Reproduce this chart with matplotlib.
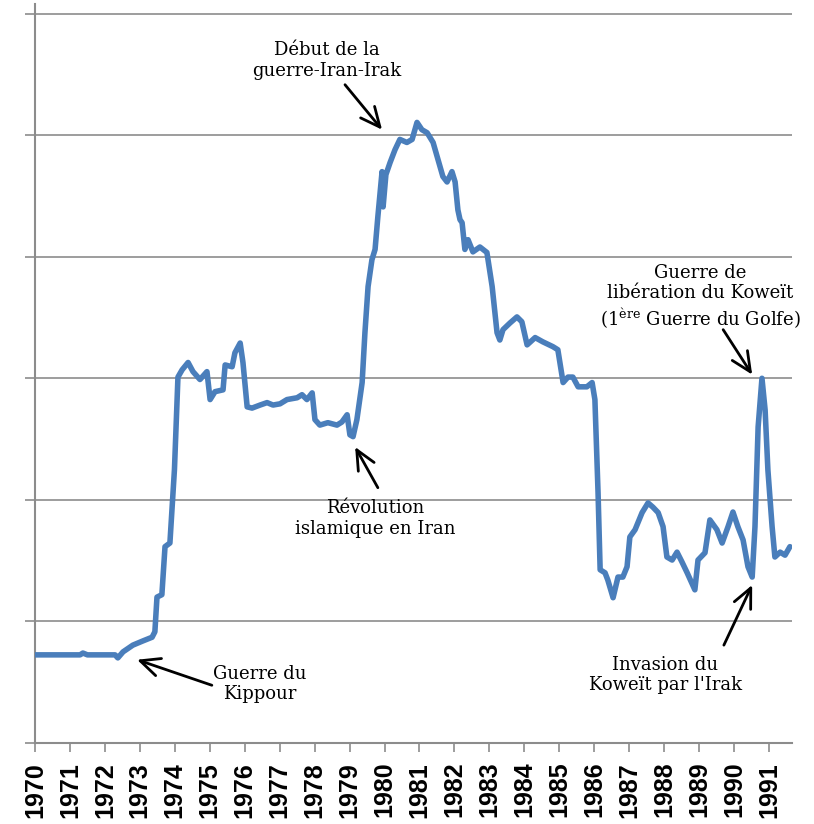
import matplotlib.pyplot as plt

# Oil price curve (decimal year, value; gridlines every 20)
years = [
    1970.00, 1971.29, 1971.37, 1971.50, 1972.29, 1972.37, 1972.52, 1972.80,
    1973.09, 1973.35, 1973.43, 1973.49, 1973.63, 1973.72, 1973.86, 1973.99,
    1974.09, 1974.21, 1974.38, 1974.52, 1974.72, 1974.92, 1975.01, 1975.15,
    1975.38, 1975.44, 1975.64, 1975.72, 1975.87, 1975.95, 1976.07, 1976.21,
    1976.44, 1976.64, 1976.81, 1977.01, 1977.21, 1977.50, 1977.64, 1977.78,
    1977.93, 1978.01, 1978.15, 1978.38, 1978.64, 1978.78, 1978.93, 1979.01,
    1979.10, 1979.21, 1979.36, 1979.44, 1979.53, 1979.64, 1979.73, 1979.81,
    1979.93, 1979.96, 1980.04, 1980.16, 1980.30, 1980.44, 1980.64, 1980.79,
    1980.93, 1981.07, 1981.22, 1981.39, 1981.53, 1981.67, 1981.79, 1981.93,
    1982.02, 1982.10, 1982.16, 1982.22, 1982.30, 1982.39, 1982.53, 1982.73,
    1982.93, 1983.08, 1983.22, 1983.30, 1983.39, 1983.59, 1983.79, 1983.93,
    1984.08, 1984.31, 1984.53, 1984.82, 1984.96, 1985.11, 1985.25, 1985.39,
    1985.54, 1985.79, 1985.94, 1986.02, 1986.11, 1986.17, 1986.31, 1986.39,
    1986.54, 1986.68, 1986.82, 1986.94, 1987.02, 1987.17, 1987.37, 1987.54,
    1987.68, 1987.83, 1987.97, 1988.08, 1988.23, 1988.37, 1988.51, 1988.66,
    1988.88, 1988.97, 1989.17, 1989.31, 1989.51, 1989.66, 1989.83, 1989.97,
    1990.11, 1990.26, 1990.40, 1990.52, 1990.60, 1990.69, 1990.80, 1990.89,
    1990.97, 1991.09, 1991.17, 1991.32, 1991.46, 1991.60,
]
prices = [
    14.5, 14.5, 14.8, 14.5, 14.5, 14.0, 15.0, 16.1,
    16.8, 17.4, 18.3, 24.0, 24.4, 32.3, 32.9, 45.0,
    60.2, 61.4, 62.6, 61.1, 59.8, 61.1, 56.5, 57.8,
    58.1, 62.2, 61.9, 64.2, 65.8, 62.6, 55.3, 55.1,
    55.6, 56.0, 55.6, 55.8, 56.5, 56.8, 57.3, 56.5,
    57.6, 53.2, 52.3, 52.7, 52.3, 52.8, 54.0, 50.7,
    50.4, 53.2, 59.3, 67.5, 75.1, 79.5, 81.2, 86.6,
    94.0, 88.2, 93.5, 95.5, 97.6, 99.3, 98.8, 99.3,
    102.1, 100.9, 100.4, 98.8, 96.0, 93.2, 92.3, 94.0,
    92.3, 87.7, 86.1, 85.6, 81.2, 82.8, 80.8, 81.6,
    80.7, 75.1, 67.5, 66.3, 68.0, 69.1, 70.1, 69.3,
    65.5, 66.7, 66.0, 65.2, 64.7, 59.3, 60.2, 60.2,
    58.6, 58.6, 59.3, 56.5, 41.2, 28.5, 28.0, 26.8,
    23.9, 27.3, 27.3, 29.0, 33.9, 35.1, 37.9, 39.5,
    38.8, 37.9, 35.6, 30.6, 30.1, 31.4, 29.8, 28.0,
    25.2, 30.1, 31.3, 36.7, 35.1, 32.9, 35.6, 38.0,
    35.6, 33.4, 29.0, 27.3, 35.6, 52.0, 60.0, 54.8,
    44.9, 35.6, 30.6, 31.4, 30.9, 32.3,
]

year_ticks = list(range(1970, 1992))

# events: label, arrow head (year, value), arrow tail, text centre
events = [
    ("Début de la\nguerre-Iran-Irak", (1979.93, 100.9), (1978.87, 108.3), (1978.35, 112.3)),
    ("Guerre du\nKippour", (1972.92, 13.7), (1975.06, 9.5), (1976.44, 9.7)),
    ("Révolution\nislamique en Iran", (1979.16, 48.7), (1979.81, 42.0), (1979.73, 36.9)),
    ("Guerre de\nlibération du Koweït\n(1$^{\\mathrm{ère}}$ Guerre du Golfe)",
     (1990.52, 60.6), (1989.69, 68.0), (1989.03, 73.3)),
    ("Invasion du\nKoweït par l'Irak", (1990.52, 26.0), (1989.71, 16.1), (1988.03, 11.2)),
]

plt.rcParams["mathtext.fontset"] = "dejavuserif"

fig = plt.figure(figsize=(8.14, 8.24), dpi=100)
ax = fig.add_axes([0.043, 0.0983, 0.930, 0.897])

grid_col = "#8c8c8c"
ax.plot(years, prices, color="#4a7ebb", lw=4, solid_joinstyle="round",
        solid_capstyle="round", zorder=3)

ax.set_xlim(1970, 1991.66)
ax.set_ylim(0, 121.6)
ax.set_yticks(range(0, 121, 20))
ax.set_yticklabels([])
ax.yaxis.grid(True, color=grid_col, lw=1.2)
ax.set_xticks(year_ticks)
ax.set_xticklabels([str(y) for y in year_ticks], rotation=90,
                   fontsize=18, fontweight="bold", family="Liberation Sans")
ax.tick_params(axis="y", length=7.5, width=1.2, color=grid_col)
ax.tick_params(axis="x", length=6.5, width=1.2, color=grid_col, pad=7)

for side in ("top", "right"):
    ax.spines[side].set_visible(False)
for side in ("left", "bottom"):
    ax.spines[side].set_color(grid_col)
    ax.spines[side].set_linewidth(1.5)

for label, head, tail, centre in events:
    ax.annotate("", xy=head, xytext=tail,
                arrowprops=dict(arrowstyle="->,head_length=1.4,head_width=0.65",
                                color="black", lw=2, shrinkA=0, shrinkB=0),
                zorder=4)
    ax.text(centre[0], centre[1], label, ha="center", va="center",
            family="DejaVu Serif", fontsize=13, linespacing=1.2, zorder=4)

fig.savefig("out.png", dpi=100)
